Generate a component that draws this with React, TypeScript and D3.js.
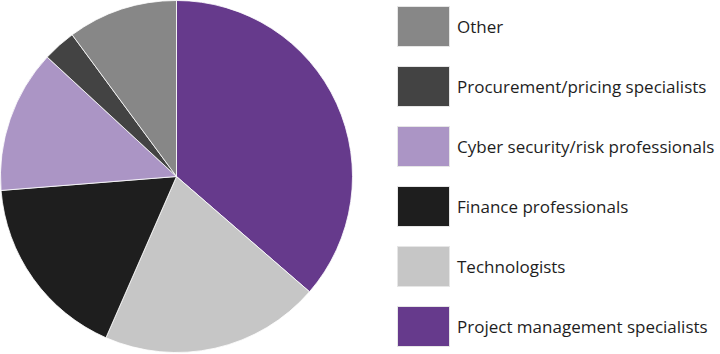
import React, { useEffect, useRef } from 'react';
import * as d3 from 'd3';

// pie order, clockwise from 12 o'clock
const categories = [
  'Project management specialists',
  'Technologists',
  'Finance professionals',
  'Cyber security/risk professionals',
  'Procurement/pricing specialists',
  'Other',
];
const values = [36, 20, 17, 13, 3, 10];
const colors = ['#663a8c', '#c6c6c6', '#1e1e1e', '#ab95c5', '#434343', '#878787'];

const WIDTH = 720;
const HEIGHT = 354;

function PieChart() {
  const svgRef = useRef<SVGSVGElement>(null);

  useEffect(() => {
    const svg = d3.select(svgRef.current);
    svg.selectAll('*').remove();

    const data = categories.map((c, i) => ({ label: c, value: values[i] }));
    const radius = 176;
    const g = svg.append('g').attr('transform', 'translate(176.5, 176.5)');

    const color = d3.scaleOrdinal<string, string>().domain(categories).range(colors);

    const pie = d3.pie<{ label: string; value: number }>()
      .value(d => d.value)
      .sort(null);
    const arc = d3.arc<d3.PieArcDatum<{ label: string; value: number }>>()
      .innerRadius(0)
      .outerRadius(radius);

    g.selectAll('path')
      .data(pie(data))
      .enter().append('path')
        .attr('d', arc)
        .attr('fill', d => color(d.data.label))
        .attr('stroke', '#fff')
        .attr('stroke-width', 0.8);

    // legend, listed bottom-up relative to the pie order
    const legendItems = categories.slice().reverse();
    const y = d3.scaleBand().domain(legendItems).range([6, 366]).paddingInner(0);

    const legend = svg.append('g').attr('transform', 'translate(397, 0)');
    const rows = legend.selectAll('g')
      .data(legendItems)
      .enter().append('g')
        .attr('transform', d => `translate(0, ${y(d)})`);

    rows.append('rect')
      .attr('x', 0.5)
      .attr('y', 0.5)
      .attr('width', 52)
      .attr('height', 40)
      .attr('fill', d => color(d))
      .attr('stroke', '#e6e6e6')
      .attr('stroke-width', 1);

    rows.append('text')
      .attr('x', 60)
      .attr('y', 21)
      .attr('dy', '0.35em')
      .attr('font-family', '"Open Sans", sans-serif')
      .attr('font-size', 17)
      .attr('fill', '#1e1e1e')
      .text(d => d);
  }, []);

  return (
    <svg
      ref={svgRef}
      width={WIDTH}
      height={HEIGHT}
      style={{ position: 'absolute', left: 0, top: 0 }}
    ></svg>
  );
}

export default function App() {
  return <PieChart />;
}
